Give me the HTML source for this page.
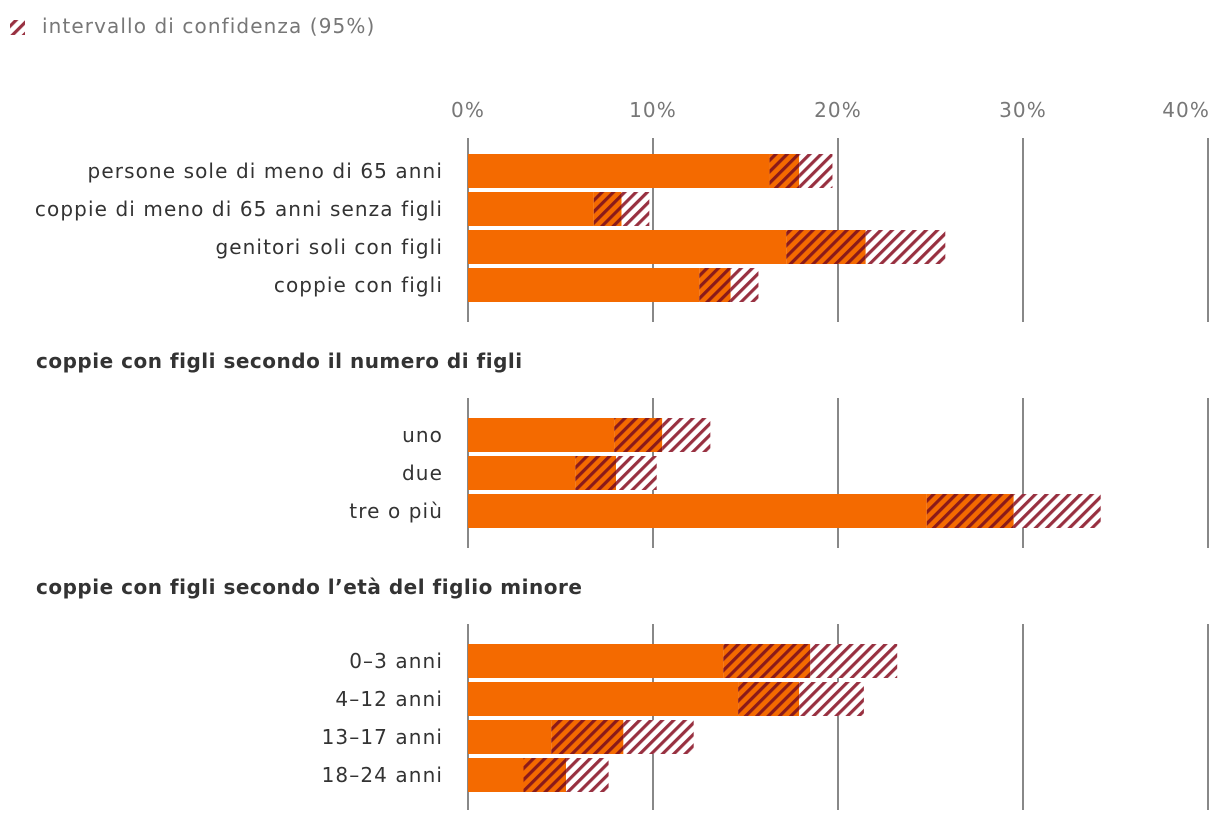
<!DOCTYPE html>
<html><head><meta charset="utf-8"><style>
body{margin:0;background:#fff;}
svg text{font-family:"DejaVu Sans","Liberation Sans",sans-serif;letter-spacing:1.1px;}
svg text.b{letter-spacing:0.5px;}
</style></head><body>
<svg id="chart" width="1220" height="824" xmlns="http://www.w3.org/2000/svg">
<defs>
<pattern id="hatchDark" patternUnits="userSpaceOnUse" width="8" height="8" patternTransform="rotate(45)">
<rect width="8" height="8" fill="#f46a00"/><rect width="3.2" height="8" fill="#8a1a1a"/></pattern>
<pattern id="hatchLight" patternUnits="userSpaceOnUse" width="8" height="8" patternTransform="rotate(45)">
<rect width="8" height="8" fill="#fff"/><rect width="3.2" height="8" fill="#983040"/></pattern>
</defs>
<g>
<rect x="10" y="20" width="15" height="15" fill="url(#hatchLight)"/>
<text x="42" y="33" font-size="20" fill="#777">intervallo di confidenza (95%)</text>
</g>
<g id="grid"></g>
<g id="bars"></g>
<g id="labels"></g>
</svg>
<script>
const ticks=[0,10,20,30,40];
const tickLabels=["0%","10%","20%","30%","40%"];
const groupTitles=["","coppie con figli secondo il numero di figli","coppie con figli secondo l’età del figlio minore"];
const categories=[
["persone sole di meno di 65 anni","coppie di meno di 65 anni senza figli","genitori soli con figli","coppie con figli"],
["uno","due","tre o più"],
["0–3 anni","4–12 anni","13–17 anni","18–24 anni"]];
const values=[[17.9,8.3,21.5,14.2],[10.5,8.0,29.5],[18.5,17.9,8.4,5.3]];
const ciLow=[[16.3,6.8,17.2,12.5],[7.9,5.8,24.8],[13.8,14.6,4.5,3.0]];
const ciHigh=[[19.7,9.8,25.8,15.7],[13.1,10.2,34.2],[23.2,21.4,12.2,7.6]];

const NS="http://www.w3.org/2000/svg";
const x=v=>468+v*18.5;
const groupTop=[154,418,644];
const gridRange=[[138,322],[398,548],[624,810]];
const grid=document.getElementById('grid'),bars=document.getElementById('bars'),labels=document.getElementById('labels');
function mk(tag,attrs,parent){const e=document.createElementNS(NS,tag);for(const k in attrs)e.setAttribute(k,attrs[k]);parent.appendChild(e);return e;}
ticks.forEach((t,i)=>{
  const last=i===ticks.length-1;
  const tl=mk('text',{x:last?x(t)+2:x(t),y:117,'font-size':20,fill:'#777','text-anchor':last?'end':'middle'},labels);
  tl.textContent=tickLabels[i];
  
  
  gridRange.forEach(r=>{
    const l=mk('line',{x1:x(t),x2:x(t),y1:r[0],y2:r[1],stroke:'#888','stroke-width':2},grid);
    
    
  });
});
groupTitles.forEach((g,gi)=>{
  if(g){const t=mk('text',{x:36,y:gi==1?368:594,'font-size':20,'font-weight':'bold',fill:'#333',class:'b'},labels);t.textContent=g;
    
    }
  categories[gi].forEach((c,i)=>{
    const y=groupTop[gi]+i*38,h=34;
    const lt=mk('text',{x:443,y:y+24,'font-size':20,fill:'#333','text-anchor':'end'},labels);lt.textContent=c;
    
    
    const b=mk('rect',{x:x(0),y:y,width:x(ciLow[gi][i])-x(0),height:h,fill:'#f46a00'},bars);
    
    
    const d=mk('rect',{x:x(ciLow[gi][i]),y:y,width:x(values[gi][i])-x(ciLow[gi][i]),height:h,fill:'url(#hatchDark)'},bars);
    
    
    const u=mk('rect',{x:x(values[gi][i]),y:y,width:x(ciHigh[gi][i])-x(values[gi][i]),height:h,fill:'url(#hatchLight)'},bars);
    
    
  });
});
</script>
</body></html>
